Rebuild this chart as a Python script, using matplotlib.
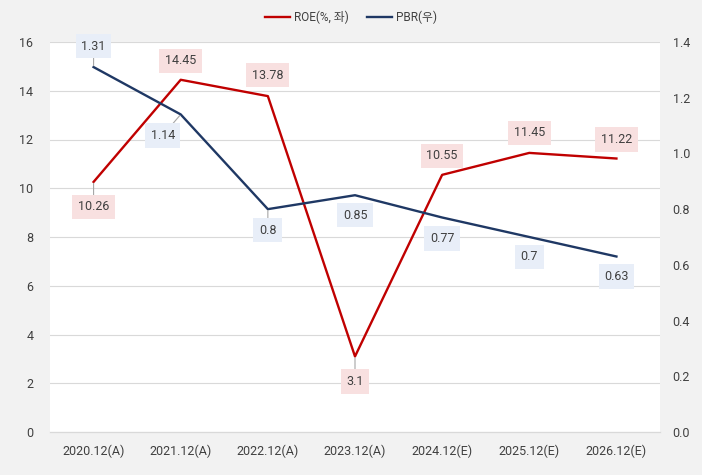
import matplotlib
matplotlib.use("Agg")
import matplotlib.pyplot as plt
from matplotlib.ticker import FormatStrFormatter

plt.rcParams['font.family'] = ['Roboto', 'Noto Sans CJK KR', 'DejaVu Sans']

categories = ["2020.12(A)", "2021.12(A)", "2022.12(A)", "2023.12(A)", "2024.12(E)", "2025.12(E)", "2026.12(E)"]
roe = [10.26, 14.45, 13.78, 3.1, 10.55, 11.45, 11.22]
pbr = [1.31, 1.14, 0.8, 0.85, 0.77, 0.7, 0.63]
roe_labels = ["10.26", "14.45", "13.78", "3.1", "10.55", "11.45", "11.22"]
pbr_labels = ["1.31", "1.14", "0.8", "0.85", "0.77", "0.7", "0.63"]

# label offsets in pixels (dx, dy) and whether a leader line is drawn
roe_off = [(0, -25, True), (0, 19, False), (0, 21, False), (0, -25, True), (0, 19, False), (0, 20, False), (0, 19, False)]
pbr_off = [(0, 21, True), (-18, -21, True), (0, -21, True), (0, -20, False), (0, -21, False), (0, -20, False), (0, -20, False)]

red = "#c00000"
navy = "#1f3864"
txt = "#404040"

fig = plt.figure(figsize=(7.02, 4.75), dpi=100, facecolor="#f2f2f2")
ax = fig.add_axes([50/702, 43/475, 610/702, 390/475])
ax.set_facecolor("white")
ax2 = ax.twinx()

x = list(range(len(categories)))
l1, = ax.plot(x, roe, color=red, lw=1.7, label="ROE(%, 좌)", zorder=3)
l2, = ax2.plot(x, pbr, color=navy, lw=1.7, label="PBR(우)", zorder=3)

ax.set_xlim(-0.5, len(categories) - 0.5)
ax.set_ylim(0, 16)
ax.set_yticks(range(0, 17, 2))
ax2.set_ylim(0, 1.4)
ax2.set_yticks([i * 0.2 for i in range(8)])
ax2.yaxis.set_major_formatter(FormatStrFormatter('%.1f'))
ax.set_xticks(x)
ax.set_xticklabels(categories)

ax.grid(axis='y', color="#d9d9d9", lw=0.8)
ax.set_axisbelow(True)
for a in (ax, ax2):
    for s in ("top", "left", "right"):
        a.spines[s].set_visible(False)
    a.spines["bottom"].set_color("#d9d9d9")
    a.tick_params(length=0, labelsize=9, colors=txt)
ax.tick_params(axis='y', pad=12)
ax2.tick_params(axis='y', pad=9)
ax.tick_params(axis='x', pad=9)

def label(a, xi, yi, s, off, fc):
    dx, dy, lead = off
    kw = {}
    if lead:
        kw['arrowprops'] = dict(arrowstyle='-', color='#a6a6a6', lw=0.8, shrinkA=0, shrinkB=1)
    a.annotate(s, (xi, yi), xytext=(dx, dy), textcoords='offset pixels',
               ha='center', va='center', fontsize=9, color=txt,
               bbox=dict(boxstyle='square,pad=0.45', fc=fc, ec='none'), zorder=5, **kw)

for i in x:
    label(ax, i, roe[i], roe_labels[i], roe_off[i], "#f8e0e0")
for i in x:
    label(ax2, i, pbr[i], pbr_labels[i], pbr_off[i], "#e8eef8")

fig.legend(handles=[l1, l2], loc='upper center', bbox_to_anchor=(0.5, 1.0), ncol=2,
           frameon=False, fontsize=8.5, handlelength=2.1, handletextpad=0.35,
           columnspacing=1.5, labelcolor=txt)

fig.savefig("out.png", dpi=100, facecolor=fig.get_facecolor())
